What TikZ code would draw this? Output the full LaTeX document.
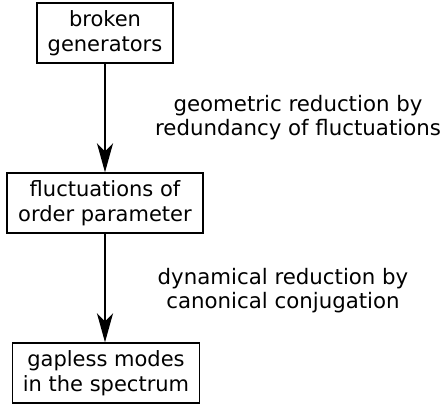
\documentclass[tikz,border=0pt]{standalone}
\usepackage{fontspec}
\setmainfont{DejaVu Sans}
\usetikzlibrary{arrows.meta}
\begin{document}
\begin{tikzpicture}[x=1pt,y=-1pt,
  box/.style={draw,line width=1.3pt,align=center,inner xsep=9pt,inner ysep=4pt,
    font=\fontsize{21}{25}\selectfont},
  lbl/.style={align=center,font=\fontsize{21.3}{24}\selectfont},
  flow/.style={line width=2.7pt,-{Stealth[length=29pt,width=16pt,inset=8pt]}}]
\useasboundingbox (0,0) rectangle (445,404);
\node[box,minimum width=136pt,minimum height=60pt] (b1) at (105,33) {broken\\generators};
\node[box,minimum width=196pt,minimum height=60pt] (b2) at (105,203) {fluctuations of\\order parameter};
\node[box,minimum width=187pt,minimum height=60pt] (b3) at (106,373) {gapless modes\\in the spectrum};
\draw[flow] (b1) -- (b2);
\draw[flow] (b2.south) -- (b2.south |- b3.north);
\node[lbl] (l1) at (298,118) {geometric reduction by\\redundancy of fluctuations};
\node[lbl] (l2) at (283,291) {dynamical reduction by\\canonical conjugation};
\end{tikzpicture}
\end{document}
